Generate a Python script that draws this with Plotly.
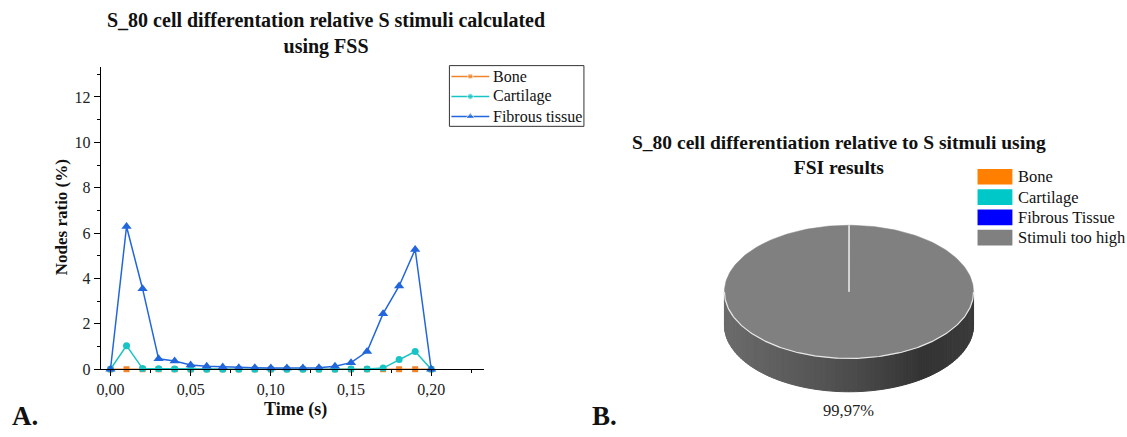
import math
import plotly.graph_objects as go

# ---------------- data ----------------
time_s = [0.00, 0.01, 0.02, 0.03, 0.04, 0.05, 0.06, 0.07, 0.08, 0.09, 0.10,
          0.11, 0.12, 0.13, 0.14, 0.15, 0.16, 0.17, 0.18, 0.19, 0.20]
bone = [0, 0, 0, 0, 0, 0, 0, 0, 0, 0, 0, 0, 0, 0, 0, 0, 0, 0, 0, 0, 0]
cartilage = [0, 1.04, 0.03, 0.02, 0.01, 0, 0, 0, 0, 0, 0,
             0, 0, 0, 0, 0.01, 0.01, 0.05, 0.43, 0.78, 0]
fibrous = [0, 6.29, 3.55, 0.46, 0.36, 0.19, 0.13, 0.10, 0.07, 0.06, 0.05,
           0.05, 0.05, 0.07, 0.13, 0.29, 0.78, 2.45, 3.67, 5.28, 0]
series_names = ["Bone", "Cartilage", "Fibrous tissue"]

pie_labels = ["Bone", "Cartilage", "Fibrous Tissue", "Stimuli too high"]
pie_values = [0, 0, 0.03, 99.97]

title_a = "S_80 cell differentation relative S stimuli calculated<br>using FSS"
title_b = "S_80 cell differentiation relative to S sitmuli using<br>FSI results"

# ---------------- style ----------------
W, H = 1127, 437
FONT = "Liberation Serif"
line_colors = ["#F0842C", "#19C4C4", "#2266DD"]
line_symbols = ["square", "circle", "triangle-up"]
line_msize = [6, 7, 9]
pie_colors = ["#FF8000", "#00C8C8", "#0000FF", "#808080"]


def px(x):
    return x / W


def py(y):
    return 1 - y / H


fig = go.Figure()

# ---------------- left: line chart ----------------
for name, vals, col, sym, ms in zip(series_names, [bone, cartilage, fibrous],
                                    line_colors, line_symbols, line_msize):
    fig.add_trace(go.Scatter(x=time_s, y=vals, name=name, mode="lines+markers",
                             line=dict(color=col, width=1.5),
                             marker=dict(symbol=sym, size=ms, color=col),
                             cliponaxis=False, showlegend=False, xaxis="x", yaxis="y"))

shapes = []
annotations = []

# left legend (drawn in pixel coordinates, x2/y2)
LG_X0, LG_X1, LG_Y0, LG_Y1 = 447, 582, 67, 129
LG_ROW0, LG_STEP = 78, 20.5
shapes.append(dict(type="rect", xref="x2", yref="y2", x0=LG_X0, x1=LG_X1, y0=LG_Y0, y1=LG_Y1,
                   line=dict(color="#333", width=1), fillcolor="white", layer="below"))
for i, (name, col, sym, ms) in enumerate(zip(series_names, line_colors, line_symbols, line_msize)):
    yc = LG_ROW0 + LG_STEP * i
    fig.add_trace(go.Scatter(x=[LG_X0 + 2, LG_X0 + 21, LG_X0 + 40], y=[yc, yc, yc],
                             mode="lines+markers", line=dict(color=col, width=1.5),
                             marker=dict(symbol=sym, size=[0, ms - 1, 0], color=col),
                             hoverinfo="skip", showlegend=False, xaxis="x2", yaxis="y2"))
    annotations.append(dict(x=LG_X0 + 42, y=yc, xref="x2", yref="y2", text=name,
                            xanchor="left", yanchor="middle", showarrow=False,
                            font=dict(family=FONT, size=16, color="#111")))

# ---------------- right: 3D pie drawn in pixel coordinates ----------------
CX, CY, RX, RY, DEPTH = 848, 298, 125, 68, 34

total = sum(pie_values)
cum = [0]
for v in pie_values:
    cum.append(cum[-1] + v / total)
starts = [90 - 360 * cum[i] for i in range(len(pie_values))]
ends = [90 - 360 * cum[i + 1] for i in range(len(pie_values))]


def ept(theta_deg, dy=0):
    t = math.radians(theta_deg)
    return CX + RX * math.cos(t), CY - RY * math.sin(t) + dy


def slice_at(theta_deg):
    for i, v in enumerate(pie_values):
        if v <= 0:
            continue
        a, b = ends[i], starts[i]
        t = theta_deg
        while t > b:
            t -= 360
        while t < a:
            t += 360
        if a <= t <= b:
            return i
    return len(pie_values) - 1


def shade(xn):
    pts = [(-1.0, 0.84), (0.0, 0.60), (0.6, 0.40), (1.0, 0.46)]
    for (x0, f0), (x1, f1) in zip(pts[:-1], pts[1:]):
        if x0 <= xn <= x1:
            return f0 + (f1 - f0) * (xn - x0) / (x1 - x0)
    return pts[-1][1]


def hex_scale(hexc, f):
    r, g, b = int(hexc[1:3], 16), int(hexc[3:5], 16), int(hexc[5:7], 16)
    return "rgb(%d,%d,%d)" % (round(r * f), round(g * f), round(b * f))


NSTRIP = 90
for k in range(NSTRIP):
    ta = 180 + 180 * k / NSTRIP
    tb = 180 + 180 * (k + 1) / NSTRIP
    tm = (ta + tb) / 2
    idx = slice_at(tm)
    col = hex_scale(pie_colors[idx], shade(math.cos(math.radians(tm))))
    p1, p2 = ept(ta), ept(tb)
    p3, p4 = ept(tb, DEPTH), ept(ta, DEPTH)
    fig.add_trace(go.Scatter(x=[p1[0], p2[0], p3[0], p4[0], p1[0]],
                             y=[p1[1], p2[1], p3[1], p4[1], p1[1]],
                             mode="lines", fill="toself", fillcolor=col,
                             line=dict(color=col, width=1), hoverinfo="skip",
                             showlegend=False, xaxis="x2", yaxis="y2"))

for i, v in enumerate(pie_values):
    if v <= 0:
        continue
    n = max(2, int(abs(starts[i] - ends[i]) / 1.5))
    xs, ys = [CX], [CY]
    for j in range(n + 1):
        t = starts[i] + (ends[i] - starts[i]) * j / n
        x, y = ept(t)
        xs.append(x)
        ys.append(y)
    xs.append(CX)
    ys.append(CY)
    fig.add_trace(go.Scatter(x=xs, y=ys, mode="lines", fill="toself",
                             fillcolor=pie_colors[i], line=dict(color=pie_colors[i], width=0.5),
                             hoverinfo="skip", showlegend=False, xaxis="x2", yaxis="y2"))

rx_, ry_ = [], []
for j in range(181):
    x, y = ept(180 + j)
    rx_.append(x)
    ry_.append(y)
fig.add_trace(go.Scatter(x=rx_, y=ry_, mode="lines", line=dict(color="#E8E8E8", width=1.2),
                         hoverinfo="skip", showlegend=False, xaxis="x2", yaxis="y2"))

nonzero = [i for i, v in enumerate(pie_values) if v > 0]
if len(nonzero) > 1:
    for i in nonzero:
        x, y = ept(starts[i])
        fig.add_trace(go.Scatter(x=[CX, x], y=[CY, y], mode="lines",
                                 line=dict(color="#D8D8D8", width=1.5),
                                 hoverinfo="skip", showlegend=False, xaxis="x2", yaxis="y2"))

for i, v in enumerate(pie_values):
    if v < 1:
        continue
    tm = (starts[i] + ends[i]) / 2
    x, y = ept(tm)
    below = math.sin(math.radians(tm)) < 0
    annotations.append(dict(x=x, y=y + (DEPTH + 19 if below else -14), xref="x2", yref="y2",
                            text=("%.2f%%" % v).replace(".", ","), showarrow=False,
                            xanchor="center", yanchor="middle",
                            font=dict(family=FONT, size=16.5, color="#222")))

# pie legend
PL_X, PL_Y, PL_STEP = 977, 180.5, 20.7
for i, lab in enumerate(pie_labels):
    yc = PL_Y + PL_STEP * i
    shapes.append(dict(type="rect", xref="x2", yref="y2", x0=PL_X, x1=PL_X + 35,
                       y0=yc - 8, y1=yc + 8, fillcolor=pie_colors[i], line=dict(width=0)))
    annotations.append(dict(x=PL_X + 39, y=yc, xref="x2", yref="y2", text=lab,
                            xanchor="left", yanchor="middle", showarrow=False,
                            font=dict(family=FONT, size=16.5, color="#111")))

# titles and labels
annotations += [
    dict(x=px(323), y=py(34.5), xref="paper", yref="paper", text="<b>%s</b>" % title_a,
         showarrow=False, align="center", xanchor="center", yanchor="middle",
         font=dict(family=FONT, size=20, color="#111")),
    dict(x=px(838), y=py(158.5), xref="paper", yref="paper", text="<b>%s</b>" % title_b,
         showarrow=False, align="center", xanchor="center", yanchor="middle",
         font=dict(family=FONT, size=19.5, color="#111")),
    dict(x=px(58), y=py(222), xref="paper", yref="paper", text="<b>Nodes ratio (%)</b>",
         textangle=-90, showarrow=False, xanchor="center", yanchor="middle",
         font=dict(family=FONT, size=17, color="#111")),
    dict(x=px(293), y=py(418), xref="paper", yref="paper", text="<b>Time (s)</b>",
         showarrow=False, xanchor="center", yanchor="middle",
         font=dict(family=FONT, size=18, color="#111")),
    dict(x=px(21), y=py(425), xref="paper", yref="paper", text="<b>A.</b>",
         showarrow=False, xanchor="center", yanchor="middle",
         font=dict(family=FONT, size=27, color="#111")),
    dict(x=px(603), y=py(425), xref="paper", yref="paper", text="<b>B.</b>",
         showarrow=False, xanchor="center", yanchor="middle",
         font=dict(family=FONT, size=27, color="#111")),
]

axis_common = dict(showline=True, linecolor="black", linewidth=1, ticks="outside",
                   ticklen=6, tickwidth=1, tickcolor="black", showgrid=False,
                   zeroline=False, tickfont=dict(family=FONT, size=16, color="#222"))

fig.update_layout(
    width=W, height=H, margin=dict(l=0, r=0, t=0, b=0),
    paper_bgcolor="white", plot_bgcolor="rgba(0,0,0,0)",
    separators=", ",
    xaxis=dict(domain=[px(97), px(482)], range=[-0.00613, 0.2331], anchor="y",
               dtick=0.05, tick0=0, tickformat=".2f",
               minor=dict(dtick=0.025, ticks="outside", ticklen=3, tickcolor="black"),
               **axis_common),
    yaxis=dict(domain=[py(377), py(68)], range=[0, 13.34], anchor="x",
               dtick=2, tick0=0,
               minor=dict(dtick=1, ticks="outside", ticklen=3, tickcolor="black"),
               **axis_common),
    xaxis2=dict(domain=[0, 1], range=[0, W], visible=False, anchor="y2", fixedrange=True),
    yaxis2=dict(domain=[0, 1], range=[H, 0], visible=False, anchor="x2", fixedrange=True),
    shapes=shapes,
    annotations=annotations,
    showlegend=False,
)

fig.write_html("out.html")
